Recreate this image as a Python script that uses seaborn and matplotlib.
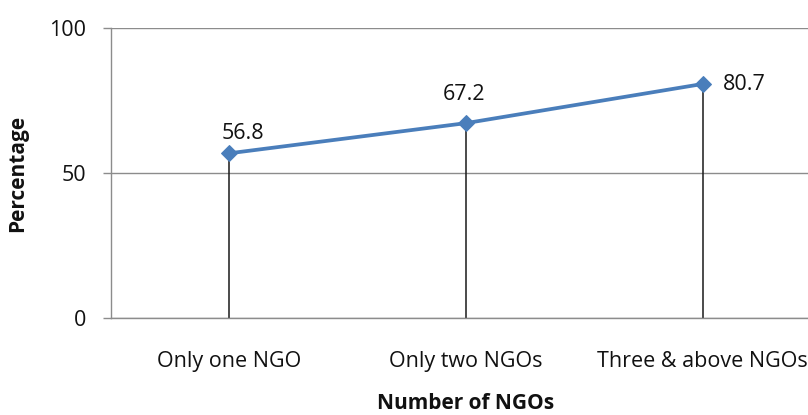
import matplotlib
matplotlib.use("Agg")
import matplotlib.pyplot as plt
import seaborn as sns
import pandas as pd

# Share of respondents by number of NGOs they are linked with
categories = ["Only one NGO", "Only two NGOs", "Three & above NGOs"]
percentages = [56.8, 67.2, 80.7]
y_ticks = [0, 50, 100]

df = pd.DataFrame({"group": categories, "pct": percentages})

sns.set_theme(style="white")
plt.rcParams["font.family"] = ["Open Sans", "DejaVu Sans"]

W, H = 808, 415
fig = plt.figure(figsize=(W / 100, H / 100), dpi=100)
# plot area runs past the right edge of the canvas
ax = fig.add_axes([111 / W, (H - 318) / H, (821 - 111) / W, (318 - 28) / H])

line_color = "#4A7EBB"
grid_color = "#8C8C8C"

ax.vlines(df["group"], 0, df["pct"], color="#1a1a1a", lw=1.1, zorder=2)
sns.lineplot(data=df, x="group", y="pct", ax=ax, color=line_color, lw=2.7,
             marker="D", markersize=8.5, markeredgecolor=line_color,
             sort=False, zorder=3)

# value labels
offsets = [(14, 20), (-2, 29), (42, -1)]
for i, (v, (dx, dy)) in enumerate(zip(percentages, offsets)):
    ax.annotate(f"{v}", (i, v), xytext=(dx * 0.72, dy * 0.72),
                textcoords="offset points", ha="center", va="center",
                fontsize=15.5, color="#111111")

ax.set_xlim(-0.5, 2.5)
ax.set_ylim(0, 100)
ax.set_yticks(y_ticks)
ax.yaxis.grid(True, color=grid_color, lw=1.0)
ax.set_axisbelow(True)

for side in ["top", "right"]:
    ax.spines[side].set_visible(False)
for side in ["left", "bottom"]:
    ax.spines[side].set_color(grid_color)
    ax.spines[side].set_linewidth(1.0)

ax.tick_params(axis="y", left=True, length=5.8, width=1.0, color=grid_color,
               pad=12, labelsize=15.5, labelcolor="#111111")
ax.tick_params(axis="x", bottom=False, length=0, pad=24, labelsize=15.5,
               labelcolor="#111111")

ax.set_xlabel("Number of NGOs", fontsize=15, fontweight="bold", labelpad=15,
              color="#111111")
ax.set_ylabel("Percentage", fontsize=15, fontweight="bold", labelpad=15,
              color="#111111")

fig.savefig("out.png", dpi=100)
